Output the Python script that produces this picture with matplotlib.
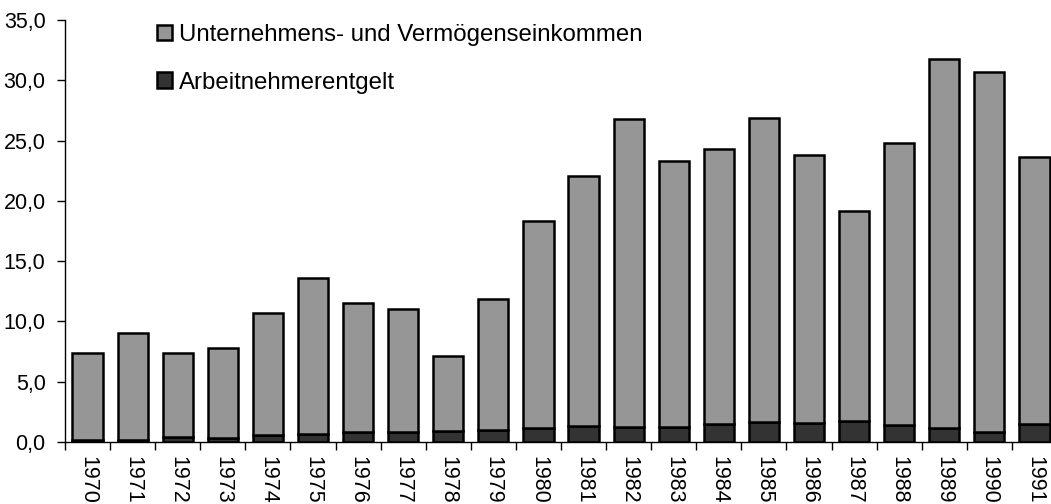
import numpy as np
import matplotlib
matplotlib.use("Agg")
import matplotlib.pyplot as plt
from matplotlib.ticker import FuncFormatter, MultipleLocator, FixedLocator

plt.rcParams["font.family"] = ["Liberation Sans", "DejaVu Sans"]

years = [str(y) for y in range(1970, 1992)]
totals = [7.4, 9.0, 7.4, 7.8, 10.7, 13.6, 11.5, 11.0, 7.1, 11.9, 18.3,
          22.1, 26.8, 23.3, 24.3, 26.9, 23.8, 19.2, 24.8, 31.8, 30.7, 23.6]
arbeitnehmer = [0.15, 0.2, 0.4, 0.35, 0.6, 0.65, 0.8, 0.8, 0.9, 1.0, 1.2,
                1.35, 1.25, 1.25, 1.5, 1.7, 1.6, 1.75, 1.45, 1.2, 0.85, 1.5]
unternehmen = [t - a for t, a in zip(totals, arbeitnehmer)]

W, H = 1051, 504
fig = plt.figure(figsize=(W / 100, H / 100), dpi=100)
# axes extends slightly past the right edge, like the original
ax = fig.add_axes([65 / W, 62 / H, 992 / W, 422 / H])

x = np.arange(len(years))
b1 = ax.bar(x, arbeitnehmer, width=0.67, color="#333333", edgecolor="black",
            linewidth=1.8, label="Arbeitnehmerentgelt")
b2 = ax.bar(x, unternehmen, bottom=arbeitnehmer, width=0.67, color="#969696",
            edgecolor="black", linewidth=1.8,
            label="Unternehmens- und Vermögenseinkommen")

ax.set_xlim(-0.5, len(years) - 0.5)
ax.set_ylim(0, 35)
ax.yaxis.set_major_locator(MultipleLocator(5))
ax.yaxis.set_major_formatter(FuncFormatter(lambda v, p: f"{v:.1f}".replace(".", ",")))

ax.set_xticks(x)
ax.set_xticklabels(years, rotation=-90, fontsize=15.5)
ax.xaxis.set_minor_locator(FixedLocator(np.arange(len(years) + 1) - 0.5))
ax.tick_params(axis="x", which="major", length=0, pad=10)
ax.tick_params(axis="x", which="minor", length=6, width=1, direction="out")
ax.tick_params(axis="y", length=6, width=1, labelsize=15.5, pad=8)

for side in ("top", "right"):
    ax.spines[side].set_visible(False)
for side in ("left", "bottom"):
    ax.spines[side].set_linewidth(1)

fig.legend([b2, b1], [b2.get_label(), b1.get_label()],
           loc="upper left", bbox_to_anchor=(157 / W, 1 - 24 / H),
           frameon=False, fontsize=17.3, handlelength=0.62, handleheight=0.62,
           handletextpad=0.28, labelspacing=1.07, borderpad=0, borderaxespad=0)

plt.savefig("out.png", dpi=100)
